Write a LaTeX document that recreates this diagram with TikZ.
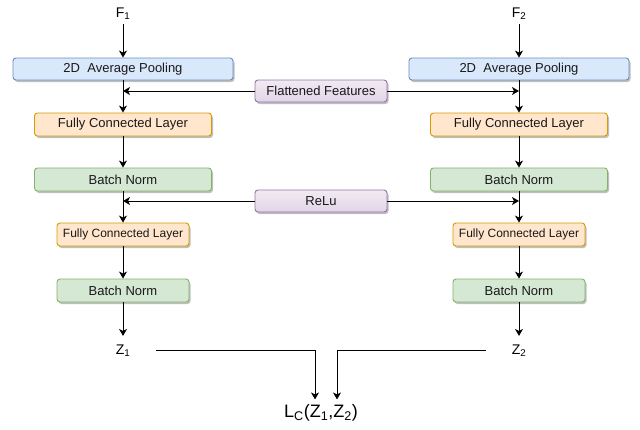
\documentclass[tikz,border=0pt]{standalone}
\usepackage{fontspec}
\setmainfont{Liberation Sans}
\usetikzlibrary{arrows.meta,shadows}
\definecolor{bluefill}{HTML}{DAE8FC}
\definecolor{bluedraw}{HTML}{6C8EBF}
\definecolor{orfill}{HTML}{FFE6CC}
\definecolor{ordraw}{HTML}{D79B00}
\definecolor{grfill}{HTML}{D5E8D4}
\definecolor{grdraw}{HTML}{82B366}
\definecolor{pufill}{HTML}{E1D5E7}
\definecolor{putop}{HTML}{F1EBF3}
\definecolor{pudraw}{HTML}{9673A6}
\tikzset{
  box/.style={rectangle, rounded corners=3pt, line width=0.9pt, inner sep=0pt,
    minimum height=22pt, font=\fontsize{13}{15}\selectfont, text=black!90,
    drop shadow={shadow xshift=1.5pt, shadow yshift=-2pt, opacity=0.25, fill=black}},
  poolbox/.style={box, draw=bluedraw, fill=bluefill, minimum width=220pt},
  fcbox/.style={box, draw=ordraw, fill=orfill, minimum width=177pt, minimum height=23pt},
  bnbox/.style={box, draw=grdraw, fill=grfill, minimum width=177pt, minimum height=23pt},
  fcsbox/.style={box, draw=ordraw, fill=orfill, minimum width=132pt, minimum height=23pt, font=\fontsize{12}{14}\selectfont},
  bnsbox/.style={box, draw=grdraw, fill=grfill, minimum width=132pt, minimum height=23pt},
  pubox/.style={box, draw=pudraw, top color=putop, bottom color=pufill, minimum width=132pt},
  lbl/.style={inner sep=0pt, font=\fontsize{14}{16}\selectfont},
  arr/.style={line width=0.9pt, -{Stealth[length=7pt,width=8pt,inset=2pt]}},
  ln/.style={line width=0.9pt}
}
\begin{document}
\begin{tikzpicture}[x=1pt,y=-1pt]
\useasboundingbox (0,0) rectangle (640,429);
% left column
\node[lbl] (f1) at (123,14) {F\textsubscript{1}};
\node[poolbox] (pool1) at (123,69) {2D\ \ Average Pooling};
\node[fcbox] (fc1) at (123,124.5) {Fully Connected Layer};
\node[bnbox] (bn1) at (123,179.5) {Batch Norm};
\node[fcsbox] (fcs1) at (123,234.5) {Fully Connected Layer};
\node[bnsbox] (bns1) at (123,290.5) {Batch Norm};
\node[lbl] (z1) at (123,351) {Z\textsubscript{1}};
% right column
\node[lbl] (f2) at (519,14) {F\textsubscript{2}};
\node[poolbox] (pool2) at (519,69) {2D\ \ Average Pooling};
\node[fcbox] (fc2) at (519,124.5) {Fully Connected Layer};
\node[bnbox] (bn2) at (519,179.5) {Batch Norm};
\node[fcsbox] (fcs2) at (519,234.5) {Fully Connected Layer};
\node[bnsbox] (bns2) at (519,290.5) {Batch Norm};
\node[lbl] (z2) at (519,351) {Z\textsubscript{2}};
% middle
\node[pubox] (flat) at (321,91) {Flattened Features};
\node[pubox] (relu) at (321,201) {ReLu};
\node[inner sep=0pt, font=\fontsize{18}{20}\selectfont] (lc) at (321,413) {L\textsubscript{C}(Z\textsubscript{1},Z\textsubscript{2})};
% vertical arrows
\draw[arr] ([yshift=-4pt]f1.south) -- (pool1.north);
\draw[arr] (pool1.south) -- (fc1.north);
\draw[arr] (fc1.south) -- (bn1.north);
\draw[arr] (bn1.south) -- (fcs1.north);
\draw[arr] (fcs1.south) -- (bns1.north);
\draw[arr] (bns1.south) -- ([yshift=9pt]z1.north);
\draw[arr] ([yshift=-4pt]f2.south) -- (pool2.north);
\draw[arr] (pool2.south) -- (fc2.north);
\draw[arr] (fc2.south) -- (bn2.north);
\draw[arr] (bn2.south) -- (fcs2.north);
\draw[arr] (fcs2.south) -- (bns2.north);
\draw[arr] (bns2.south) -- ([yshift=9pt]z2.north);
% side arrows
\draw[arr] (flat.west) -- (flat.west -| pool1.south);
\draw[arr] (flat.east) -- (flat.east -| pool2.south);
\draw[arr] (relu.west) -- (relu.west -| bn1.south);
\draw[arr] (relu.east) -- (relu.east -| bn2.south);
% to loss
\draw[arr] ([xshift=26pt,yshift=1pt]z1.east) -| ([xshift=-6pt,yshift=5pt]lc.north);
\draw[arr] ([xshift=-26pt,yshift=1pt]z2.west) -| ([xshift=16pt,yshift=5pt]lc.north);
\end{tikzpicture}
\end{document}
